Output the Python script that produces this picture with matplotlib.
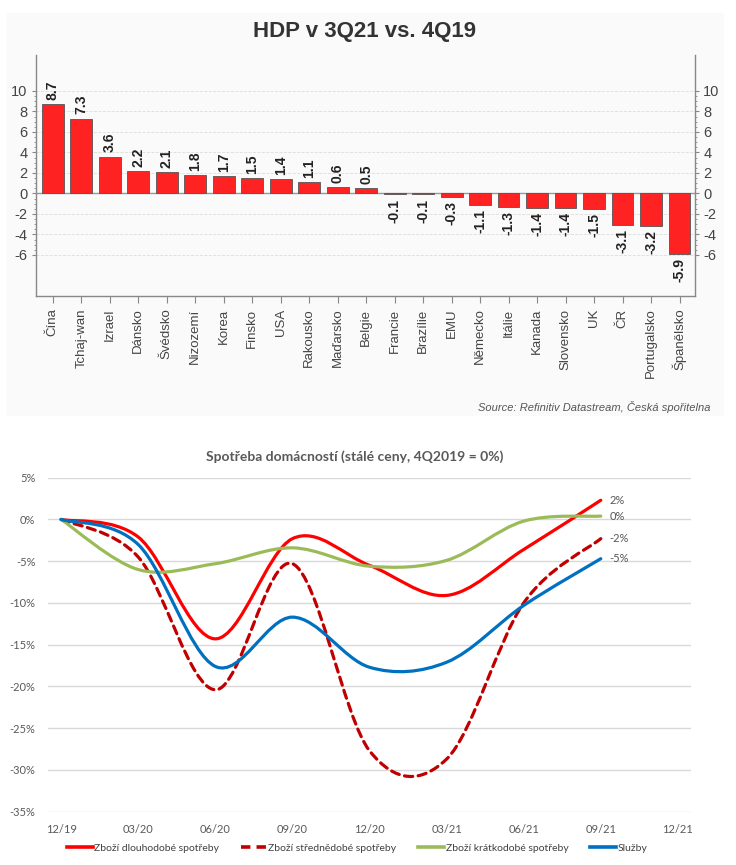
import matplotlib
matplotlib.use("Agg")
import matplotlib.pyplot as plt
import matplotlib.patches as patches
from matplotlib.path import Path
from matplotlib.lines import Line2D
import numpy as np

plt.rcParams['axes.unicode_minus'] = False

# --- horni graf: HDP v 3Q21 vs. 4Q19 ---
countries = ["Čína", "Tchaj-wan", "Izrael", "Dánsko", "Švédsko", "Nizozemí", "Korea",
             "Finsko", "USA", "Rakousko", "Maďarsko", "Belgie", "Francie", "Brazílie",
             "EMU", "Německo", "Itálie", "Kanada", "Slovensko", "UK", "ČR",
             "Portugalsko", "Španělsko"]
gdp = [8.7, 7.3, 3.6, 2.2, 2.1, 1.8, 1.7, 1.5, 1.4, 1.1, 0.6, 0.5, -0.1, -0.1,
       -0.3, -1.1, -1.3, -1.4, -1.4, -1.5, -3.1, -3.2, -5.9]
gdp_ticks = [-6, -4, -2, 0, 2, 4, 6, 8, 10]

# --- dolni graf: spotreba domacnosti ---
quarters = ["12/19", "03/20", "06/20", "09/20", "12/20", "03/21", "06/21", "09/21", "12/21"]
durable = [0, -2.1, -14.3, -2.3, -5.5, -9.1, -3.6, 2.3]
semi_durable = [0, -4.5, -20.4, -5.3, -27.7, -28.7, -10.0, -2.3]
non_durable = [0, -6.0, -5.3, -3.4, -5.6, -4.9, -0.2, 0.4]
services = [0, -3.0, -17.6, -11.7, -17.7, -17.1, -10.3, -4.7]
cons_ticks = [5, 0, -5, -10, -15, -20, -25, -30, -35]

W, H = 736, 865
fig = plt.figure(figsize=(W / 100, H / 100), dpi=100)

# podklad horniho grafu
fig.patches.append(patches.Rectangle((7 / W, 1 - 415 / H), 716 / W, 402 / H,
                                     transform=fig.transFigure, color="#fafafa", zorder=-5))

ax1 = fig.add_axes([36 / W, 1 - 296 / H, 659 / W, 241 / H])
ax1.set_facecolor("none")
xpos = np.arange(len(countries))
ax1.bar(xpos, gdp, width=0.76, color="#ff2222", edgecolor="#555555", linewidth=0.6, zorder=3)
for x, v in zip(xpos, gdp):
    off = 3 if v >= 0 else -3
    ax1.annotate(f"{v:.1f}", (x, v), xytext=(0, off), textcoords="offset points",
                 rotation=90, ha="center", va="bottom" if v >= 0 else "top",
                 fontsize=10, fontweight="bold", color="#222222", family="Liberation Sans")
ax1.set_xlim(-0.59, 22.54)
ax1.set_ylim(-10, 13.5)
ax1.set_yticks(gdp_ticks)
ax1.set_yticklabels([str(t) for t in gdp_ticks])
ax1.set_yticks(np.arange(-6, 10.5, 0.5), minor=True)
ax1.tick_params(axis="y", which="major", labelsize=10.5, labelcolor="#444444", color="#888888",
                length=3, left=True, right=True, labelleft=True, labelright=True, pad=3)
ax1.tick_params(axis="y", which="minor", length=1.5, color="#888888", left=True, right=True)
ax1.set_xticks(xpos)
ax1.set_xticklabels(countries, rotation=90, fontsize=9.5, color="#444444", family="Liberation Sans")
ax1.tick_params(axis="x", length=5, color="#888888", pad=4)
for lab in ax1.get_yticklabels():
    lab.set_family("Liberation Sans")
ax1.grid(axis="y", color="#dddddd", linestyle="--", linewidth=0.6, zorder=0)
ax1.axhline(0, color="#999999", linewidth=1.0, zorder=2)
ax1.spines["top"].set_visible(False)
for s in ["left", "right", "bottom"]:
    ax1.spines[s].set_color("#888888")
    ax1.spines[s].set_linewidth(1.0)

fig.text(365 / W, 1 - 31 / H, "HDP v 3Q21 vs. 4Q19", ha="center", va="center",
         fontsize=16, fontweight="bold", color="#333333", family="Liberation Sans")
fig.text(711 / W, 1 - 407 / H, "Source: Refinitiv Datastream, Česká spořitelna",
         ha="right", va="center", fontsize=8, style="italic", color="#555555",
         family="Liberation Sans")


# --- dolni graf ---
def smooth_path(ys):
    # Excel-like smoothing: Catmull-Rom segments as cubic Bezier curves
    pts = np.column_stack([np.arange(len(ys)), ys]).astype(float)
    verts = [pts[0]]
    codes = [Path.MOVETO]
    n = len(pts)
    for i in range(n - 1):
        p0 = pts[max(i - 1, 0)]
        p1 = pts[i]
        p2 = pts[i + 1]
        p3 = pts[min(i + 2, n - 1)]
        verts += [p1 + (p2 - p0) / 6, p2 - (p3 - p1) / 6, p2]
        codes += [Path.CURVE4] * 3
    return Path(verts, codes)


ax2 = fig.add_axes([48 / W, 1 - 811.7 / H, 643 / W, 334 / H])
ax2.set_xlim(-0.17, 8.17)
ax2.set_ylim(-35, 5)

series = [
    ("Zboží dlouhodobé spotřeby", durable, "#ff0000", "-"),
    ("Zboží střednědobé spotřeby", semi_durable, "#c00000", (0, (2.6, 1.7))),
    ("Zboží krátkodobé spotřeby", non_durable, "#9bbb59", "-"),
    ("Služby", services, "#0070c0", "-"),
]
order = [2, 3, 1, 0]
handles = []
for name, vals, col, ls in series:
    handles.append(Line2D([], [], color=col, linestyle=ls, linewidth=2.6, label=name))
for k in order:
    name, vals, col, ls = series[k]
    ax2.add_patch(patches.PathPatch(smooth_path(vals), fill=False, edgecolor=col,
                                    linestyle=ls, linewidth=2.3, capstyle="round", zorder=3 + k))
for name, vals, col, ls in series:
    ax2.annotate(f"{round(vals[-1]):.0f}%", (len(vals) - 1, vals[-1]), xytext=(6, 0),
                 textcoords="offset points", ha="left", va="center", fontsize=8,
                 color="#555555", family="Lato")

ax2.set_yticks(cons_ticks)
ax2.set_yticklabels([f"{t}%" for t in cons_ticks])
ax2.set_xticks(range(len(quarters)))
ax2.set_xticklabels(quarters)
for lab in ax2.get_xticklabels() + ax2.get_yticklabels():
    lab.set_family("Lato")
    lab.set_fontsize(8)
    lab.set_color("#595959")
ax2.tick_params(length=0)
ax2.tick_params(axis="y", pad=9)
ax2.tick_params(axis="x", pad=9)
ax2.grid(axis="y", color="#d9d9d9", linewidth=1.0)
for s in ax2.spines.values():
    s.set_visible(False)

fig.text(355 / W, 1 - 457 / H, "Spotřeba domácností (stálé ceny, 4Q2019 = 0%)",
         ha="center", va="center", fontsize=10, fontweight="bold", color="#595959",
         family="Lato")

fig.legend(handles=handles, loc="center left", bbox_to_anchor=(58 / W, 1 - 848 / H),
           ncol=4, frameon=False, handlelength=2.5, handletextpad=0.1, columnspacing=2.1,
           prop={"family": "Lato", "size": 7.5}, labelcolor="#404040")

fig.savefig("out.png", dpi=100)
